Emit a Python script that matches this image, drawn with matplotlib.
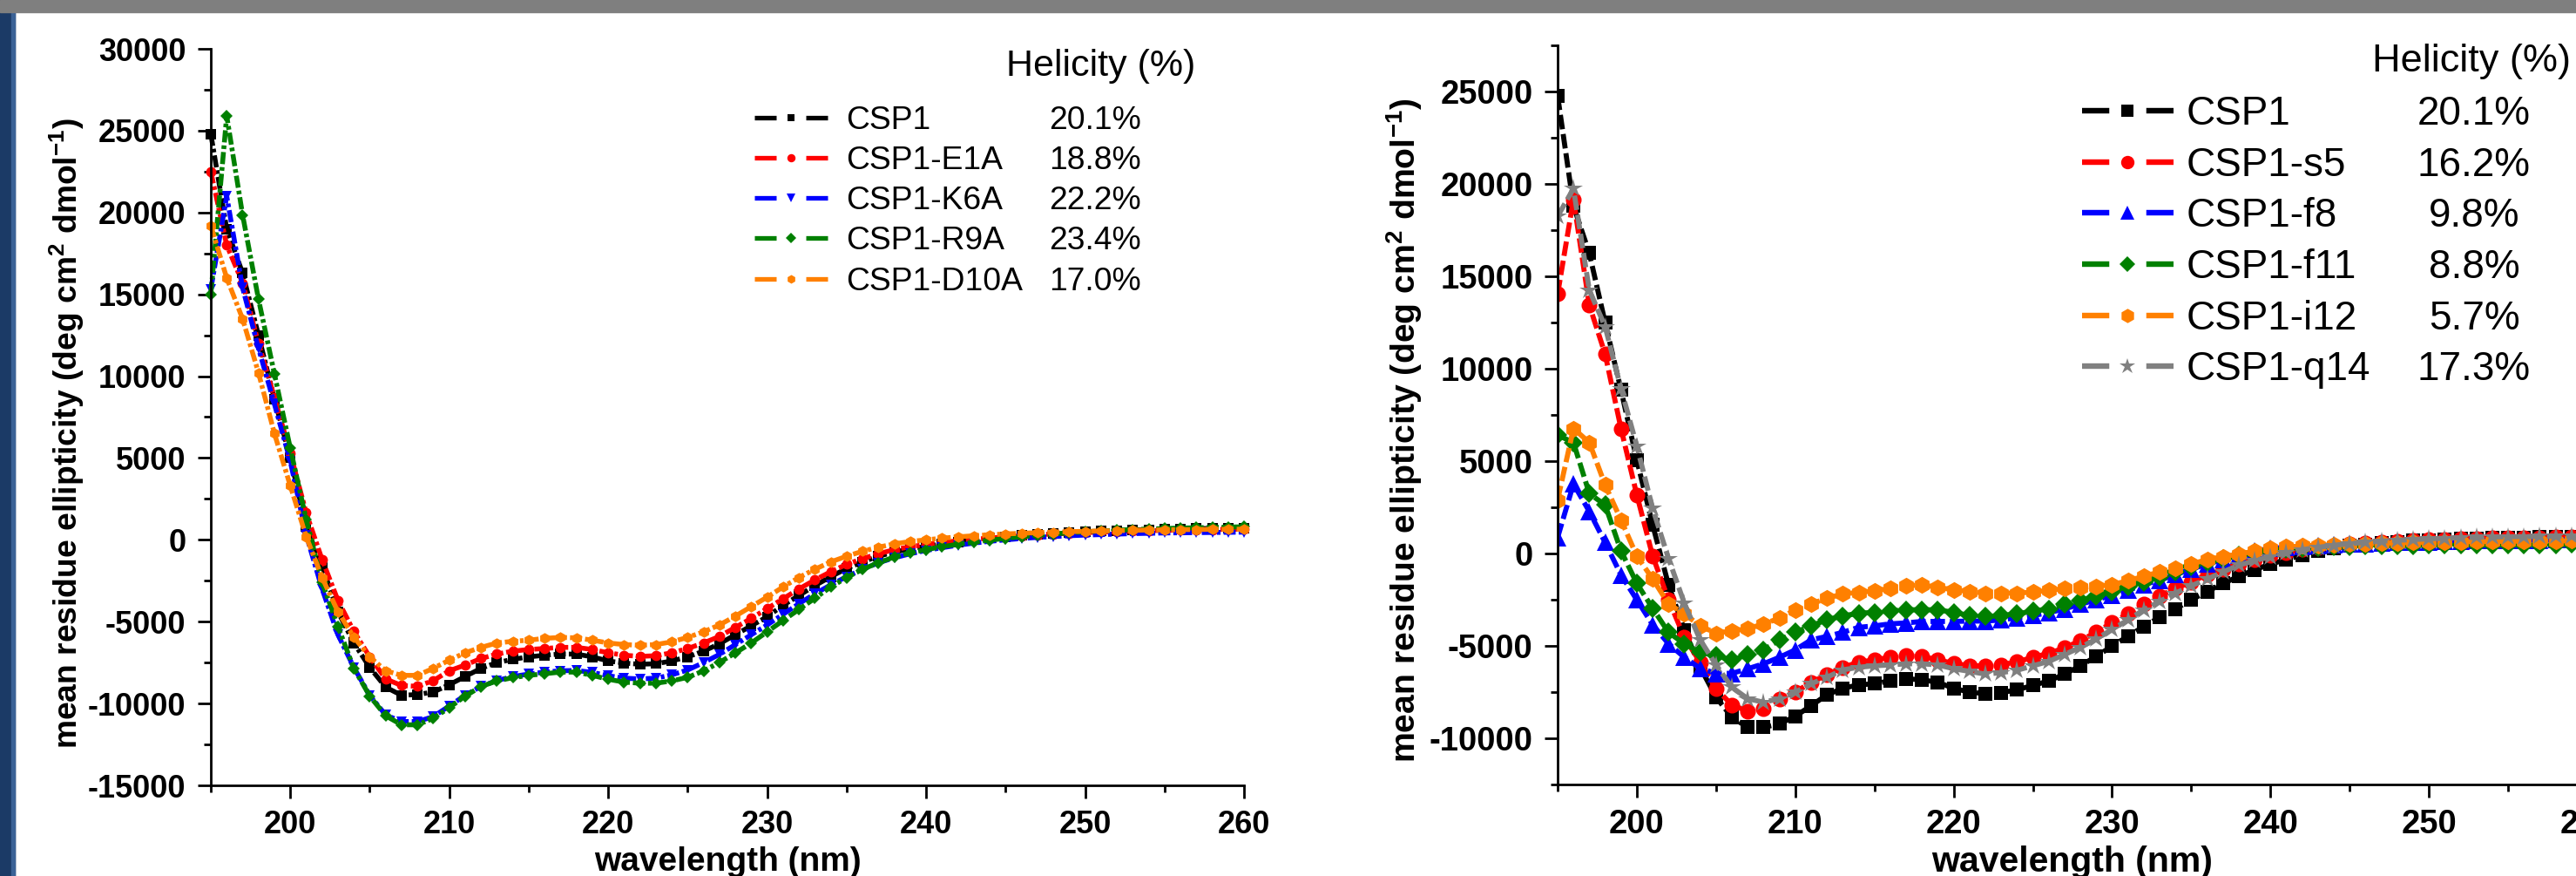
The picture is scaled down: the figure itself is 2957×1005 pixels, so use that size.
import matplotlib.pyplot as plt
from matplotlib.lines import Line2D
from matplotlib.patches import Rectangle
from matplotlib.ticker import MultipleLocator

plt.rcParams['font.family'] = ['Liberation Sans', 'DejaVu Sans']
plt.rcParams['axes.unicode_minus'] = False
plt.rcParams['lines.scale_dashes'] = False
plt.rcParams['mathtext.fontset'] = 'custom'
plt.rcParams['mathtext.rm'] = 'Liberation Sans:bold'
plt.rcParams['mathtext.default'] = 'rm'

W, H = 2957, 1005
WL = list(range(195, 261))

# ---- left panel: point mutants ----
izq_nombres = ["CSP1", "CSP1-E1A", "CSP1-K6A", "CSP1-R9A", "CSP1-D10A"]
izq_helic = ["20.1%", "18.8%", "22.2%", "23.4%", "17.0%"]

izq_csp1 = [24800, 19000, 16300, 12500, 8600, 5000, 800, -1600, -4400, -6300,
            -7800, -9000, -9500, -9450, -9300, -8850, -8350, -7850, -7500, -7300,
            -7150, -7050, -6980, -6980, -7150, -7400, -7530, -7600, -7570, -7400,
            -7150, -6800, -6350, -5800, -5250, -4700, -4000, -3400, -2800, -2250,
            -1750, -1350, -1000, -750, -550, -400, -250, -120, 0, 100,
            180, 260, 330, 390, 440, 490, 530, 570, 600, 630,
            650, 670, 690, 700, 710, 720]
izq_e1a = [22500, 18000, 15700, 12000, 8700, 5300, 1650, -1200, -3700, -5600,
           -7150, -8500, -8900, -8950, -8600, -8000, -7650, -7250, -6980, -6800,
           -6700, -6640, -6570, -6570, -6700, -6900, -7050, -7120, -7080, -6900,
           -6640, -6300, -5900, -5350, -4800, -4200, -3600, -3000, -2450, -1950,
           -1500, -1150, -850, -600, -420, -280, -160, -60, 30, 110,
           180, 250, 310, 360, 400, 440, 480, 510, 540, 560,
           580, 600, 620, 630, 640, 650]
izq_k6a = [15300, 21000, 15400, 11700, 8300, 4800, 300, -3000, -5800, -7800,
           -9500, -10700, -11100, -11100, -10800, -10150, -9500, -8950, -8600, -8350,
           -8200, -8080, -8000, -7980, -8100, -8300, -8450, -8500, -8450, -8250,
           -7950, -7500, -7000, -6400, -5800, -5200, -4550, -3900, -3300, -2750,
           -2250, -1800, -1400, -1100, -850, -650, -480, -330, -200, -90,
           0, 80, 150, 200, 250, 290, 320, 350, 380, 400,
           420, 430, 440, 450, 460, 470]
izq_r9a = [15000, 25900, 19850, 14700, 10150, 5600, 1250, -2600, -5300, -7850,
           -9550, -10750, -11300, -11300, -10900, -10250, -9550, -8960, -8620, -8420,
           -8280, -8180, -8080, -8080, -8280, -8520, -8690, -8760, -8760, -8620,
           -8400, -8010, -7490, -6910, -6300, -5620, -4930, -4250, -3570, -2880,
           -2300, -1800, -1400, -1050, -800, -600, -420, -270, -140, -20,
           90, 190, 280, 360, 430, 490, 540, 590, 630, 660,
           690, 720, 740, 760, 780, 800]
izq_d10a = [19200, 16000, 13500, 10200, 6500, 3300, 200, -2300, -4400, -5950,
            -7150, -8000, -8280, -8280, -7850, -7350, -6900, -6570, -6300, -6200,
            -6130, -6020, -5960, -5990, -6130, -6300, -6400, -6440, -6400, -6230,
            -5960, -5620, -5200, -4660, -4080, -3500, -2880, -2300, -1800, -1350,
            -1000, -700, -450, -250, -100, 0, 100, 180, 250, 310,
            360, 400, 440, 470, 500, 520, 540, 560, 580, 600,
            610, 620, 630, 640, 645, 650]

# ---- right panel: stapled peptides ----
der_nombres = ["CSP1", "CSP1-s5", "CSP1-f8", "CSP1-f11", "CSP1-i12", "CSP1-q14"]
der_helic = ["20.1%", "16.2%", "9.8%", "8.8%", "5.7%", "17.3%"]

der_csp1 = [24760, 18800, 16240, 12490, 8840, 5050, 1540, -1700, -4140, -6160,
            -7780, -8860, -9410, -9410, -9220, -8810, -8240, -7650, -7300, -7110,
            -7050, -6890, -6780, -6840, -6970, -7300, -7500, -7590, -7530, -7380,
            -7140, -6900, -6530, -6080, -5570, -5020, -4480, -3960, -3450, -3000,
            -2510, -2060, -1630, -1240, -880, -580, -330, -90, 120, 270,
            400, 480, 560, 620, 680, 720, 760, 790, 810, 830,
            850, 860, 870, 880, 890, 900]
der_s5 = [14030, 19160, 13430, 10780, 6760, 3160, -140, -2510, -4540, -5890,
          -7320, -8190, -8540, -8410, -7860, -7510, -6970, -6570, -6160, -5890,
          -5760, -5620, -5540, -5570, -5760, -5950, -6080, -6080, -6020, -5870,
          -5620, -5410, -5110, -4720, -4260, -3750, -3270, -2750, -2300, -1900,
          -1540, -1150, -850, -550, -330, -120, 60, 210, 330, 420,
          500, 560, 620, 670, 710, 740, 770, 790, 810, 830,
          840, 850, 860, 870, 880, 890]
der_f8 = [860, 3760, 2270, 590, -1160, -2510, -3860, -4890, -5620, -6220,
          -6490, -6490, -6240, -5970, -5620, -5220, -4680, -4490, -4270, -4000,
          -3920, -3810, -3760, -3680, -3680, -3680, -3660, -3660, -3600, -3480,
          -3360, -3210, -3000, -2750, -2510, -2270, -2000, -1690, -1450, -1150,
          -850, -580, -330, -120, 120, 270, 330, 380, 420, 460,
          500, 530, 560, 590, 610, 630, 650, 670, 680, 690,
          700, 710, 720, 730, 740, 750]
der_f11 = [6400, 6000, 3240, 2620, 140, -1620, -2970, -4270, -4890, -5350,
           -5540, -5760, -5490, -5220, -4680, -4270, -3920, -3590, -3380, -3240,
           -3190, -3110, -3050, -3050, -3050, -3190, -3360, -3420, -3360, -3270,
           -3120, -3000, -2750, -2540, -2300, -2060, -1780, -1540, -1300, -1000,
           -730, -480, -270, -120, 30, 180, 250, 300, 340, 370,
           390, 410, 420, 430, 440, 450, 455, 460, 465, 470,
           475, 480, 485, 490, 495, 500]
der_i12 = [2890, 6760, 6000, 3700, 1810, -140, -1380, -2730, -3270, -3920,
           -4320, -4190, -4080, -3810, -3510, -3050, -2730, -2430, -2190, -2110,
           -2030, -1890, -1760, -1700, -1840, -1970, -2060, -2150, -2150, -2150,
           -2090, -2000, -1900, -1840, -1780, -1690, -1480, -1240, -1000, -790,
           -580, -330, -180, -30, 120, 270, 350, 400, 440, 470,
           500, 530, 550, 570, 590, 610, 620, 630, 640, 650,
           660, 665, 670, 675, 680, 685]
der_q14 = [18240, 19730, 14240, 12270, 8920, 5810, 2430, -270, -2700, -4680,
           -6030, -7240, -7860, -8050, -7860, -7510, -7050, -6700, -6300, -6160,
           -6080, -6030, -5970, -5970, -6030, -6240, -6380, -6530, -6450, -6320,
           -6080, -5840, -5470, -5080, -4630, -4110, -3600, -3050, -2600, -2150,
           -1750, -1390, -1000, -640, -390, -180, 30, 200, 330, 440,
           530, 600, 660, 710, 750, 790, 820, 850, 870, 890,
           900, 910, 920, 930, 940, 950]

izq_series = [izq_csp1, izq_e1a, izq_k6a, izq_r9a, izq_d10a]
izq_colores = ["#000000", "#ff0000", "#0000ff", "#008000", "#ff8000"]
izq_marcas = ["s", "o", "v", "D", "h"]
izq_tam = [8, 8.5, 9, 7.5, 9]

der_series = [der_csp1, der_s5, der_f8, der_f11, der_i12, der_q14]
der_colores = ["#000000", "#ff0000", "#0000ff", "#008000", "#ff8000", "#808080"]
der_marcas = ["s", "o", "^", "D", "h", "*"]
der_tam = [12, 13, 14, 11, 14, 16]


def ejes(ax, ylim, fs_tick, fs_lab, ylab_xy, xlab_y):
    ax.set_xlim(195, 260)
    ax.set_ylim(*ylim)
    ax.spines['top'].set_visible(False)
    ax.spines['right'].set_visible(False)
    for s in ['left', 'bottom']:
        ax.spines[s].set_linewidth(2.0)
    ax.xaxis.set_major_locator(MultipleLocator(10))
    ax.xaxis.set_minor_locator(MultipleLocator(5))
    ax.yaxis.set_major_locator(MultipleLocator(5000))
    ax.yaxis.set_minor_locator(MultipleLocator(2500))
    ax.tick_params(which='major', direction='out', length=10.5, width=2.0,
                   pad=10, labelsize=fs_tick)
    ax.tick_params(which='minor', direction='out', length=5.5, width=2.0)
    for lab in ax.get_xticklabels() + ax.get_yticklabels():
        lab.set_fontweight('bold')
    ax.set_xlabel("wavelength (nm)", fontsize=fs_lab, fontweight='bold')
    ax.xaxis.set_label_coords(0.5, xlab_y)
    ax.set_ylabel(r"mean residue ellipticity (deg cm$^{2}$ dmol$^{-1}$)",
                  fontsize=fs_lab - 1.2, fontweight='bold')
    ax.yaxis.set_label_coords(*ylab_xy)
    ax.yaxis.label.set_va('center')


fig = plt.figure(figsize=(W / 100, H / 100), dpi=100)
fig.add_artist(Rectangle((0, 0), 17 / W, 1, transform=fig.transFigure,
                         color="#1b3a66", zorder=0))
fig.add_artist(Rectangle((13 / W, 0), 4 / W, 1, transform=fig.transFigure,
                         color="#3b6296", zorder=0))
fig.add_artist(Rectangle((0, 1 - 14 / H), 1, 14 / H, transform=fig.transFigure,
                         color="#7f7f7f", zorder=0))

ax1 = fig.add_axes([242 / W, 1 - 901 / H, 1186 / W, 845 / H])
ax2 = fig.add_axes([1788 / W, 1 - 900 / H, 1182 / W, 848.3 / H])

for ys, c, m, ms in zip(izq_series, izq_colores, izq_marcas, izq_tam):
    ax1.plot(WL, ys, color=c, lw=4.0, dashes=(10, 2.5, 3, 2.5), marker=m,
             markersize=ms, markeredgewidth=0, clip_on=False)
for ys, c, m, ms in zip(der_series, der_colores, der_marcas, der_tam):
    ax2.plot(WL, ys, color=c, lw=4.2, dashes=(12, 4), marker=m,
             markersize=ms, markeredgewidth=0)

ejes(ax1, (-15000, 30000), 26, 28, (-0.139, 0.478), -0.083)
ejes(ax2, (-12500, 27500), 27.5, 29.5, (-0.149, 0.479), -0.083)

# legends
h1 = [Line2D([0], [0], color=c, lw=3.8, dashes=(18, 24.5), marker=m,
             markersize=ms * 0.8, markeredgewidth=0)
      for c, m, ms in zip(izq_colores, izq_marcas, izq_tam)]
leg1 = ax1.legend(h1, izq_nombres, loc='upper left',
                  bbox_to_anchor=(866 / W, 1 - 121 / H),
                  bbox_transform=fig.transFigure, frameon=False, fontsize=26.8,
                  handlelength=2.26, handletextpad=0.57, labelspacing=0.3,
                  borderpad=0, borderaxespad=0, numpoints=1)
h2 = [Line2D([0], [0], color=c, lw=4.6, dashes=(22.5, 30.6), marker=m,
             markersize=ms * 0.85, markeredgewidth=0)
      for c, m, ms in zip(der_colores, der_marcas, der_tam)]
leg2 = ax2.legend(h2, der_nombres, loc='upper left',
                  bbox_to_anchor=(2390 / W, 1 - 109 / H),
                  bbox_transform=fig.transFigure, frameon=False, fontsize=33,
                  handlelength=2.29, handletextpad=0.33, labelspacing=0.32,
                  borderpad=0, borderaxespad=0, numpoints=1)

fig.text(1155 / W, 1 - 87 / H, "Helicity (%)", fontsize=31, va='baseline')
fig.text(2723 / W, 1 - 82 / H, "Helicity (%)", fontsize=32.5, va='baseline')

fig.canvas.draw()
r = fig.canvas.get_renderer()
for leg, vals, xc, fs in [(leg1, izq_helic, 1257, 26.8), (leg2, der_helic, 2840, 33)]:
    for t, v in zip(leg.get_texts(), vals):
        bb = t.get_window_extent(r)
        fig.text(xc / W, bb.y0 / fig.bbox.height, v, fontsize=fs,
                 ha='center', va='bottom')

fig.savefig("out.png", dpi=100)
